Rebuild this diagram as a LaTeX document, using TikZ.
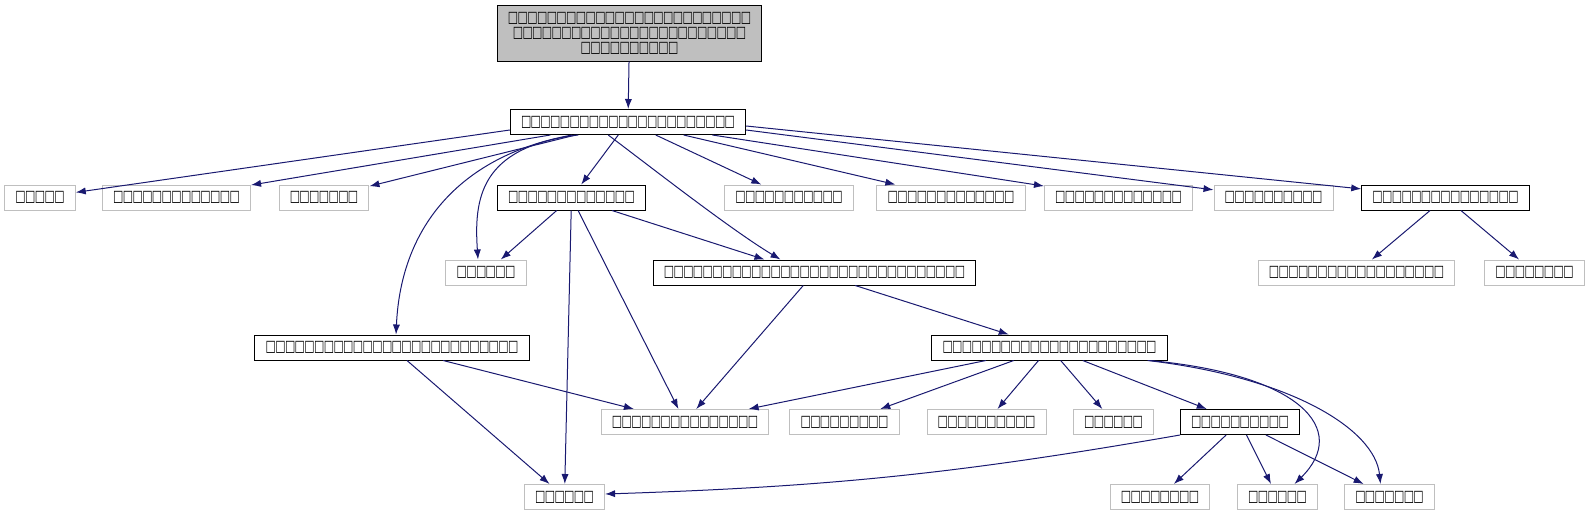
\documentclass[tikz,border=0pt]{standalone}
\usepackage{fontspec}
\newfontfamily\tofufont{DejaVu Sans}
\usetikzlibrary{arrows.meta}
\definecolor{edgeblue}{HTML}{191970}
\definecolor{greyfill}{HTML}{BFBFBF}
\definecolor{greyline}{HTML}{BFBFBF}
% one missing-glyph box per character of the label
\newcommand{\tofu}[1]{\foreach \k in {1,...,#1}{\makebox[4.85pt]{\scalebox{0.69}[1]{□}}}}
\begin{document}
\begin{tikzpicture}[x=0.5pt, y=-0.5pt, >={Latex[length=5pt,width=3.6pt]},
    every node/.style={font=\tofufont\fontsize{7.9}{7.5}\selectfont, inner xsep=5.5pt, inner ysep=0pt, minimum height=12.5pt, line width=0.5pt},
    doc/.style={draw=black}, undoc/.style={draw=greyline},
    edge/.style={->, draw=edgeblue, line width=0.5pt}]
  % include graph, positions in pixels of the 1591 x 515 image
  \useasboundingbox (0,0) rectangle (1591,515);
  \node[doc, fill=greyfill, align=center, minimum height=28pt] (top) at (629.5,33) {\tofu{25}\\\tofu{24}\\\tofu{10}};
  \node[doc] (hdr) at (628,122) {\tofu{22}};
  \node[undoc] (a) at (40,197.5) {\tofu{5}};
  \node[undoc] (b) at (176.5,197.5) {\tofu{13}};
  \node[undoc] (c) at (324,197.5) {\tofu{7}};
  \node[doc] (d) at (571.5,197.5) {\tofu{13}};
  \node[undoc] (e) at (789,197.5) {\tofu{11}};
  \node[undoc] (f) at (951,197.5) {\tofu{13}};
  \node[undoc] (g) at (1118.5,197.5) {\tofu{13}};
  \node[undoc] (h) at (1273.5,197.5) {\tofu{10}};
  \node[doc] (i) at (1445.5,197.5) {\tofu{15}};
  \node[undoc] (j) at (486,272.5) {\tofu{6}};
  \node[doc] (k) at (814.5,272.5) {\tofu{31}};
  \node[undoc] (l) at (1356.5,272.5) {\tofu{18}};
  \node[undoc] (m) at (1534.5,272.5) {\tofu{8}};
  \node[doc] (n) at (392,347.5) {\tofu{26}};
  \node[doc] (o) at (1049.5,347.5) {\tofu{22}};
  \node[undoc] (p) at (685,422) {\tofu{15}};
  \node[undoc] (q) at (844.5,422) {\tofu{9}};
  \node[undoc] (r) at (986.5,422) {\tofu{10}};
  \node[undoc] (s) at (1113.5,422) {\tofu{6}};
  \node[doc] (t) at (1240,422) {\tofu{10}};
  \node[undoc] (u) at (564.5,497) {\tofu{6}};
  \node[undoc] (v) at (1160,497) {\tofu{8}};
  \node[undoc] (w) at (1277.5,497) {\tofu{6}};
  \node[undoc] (x) at (1389.5,497) {\tofu{7}};
  \draw[edge] (top) -- (hdr);
  \draw[edge] ([yshift=-4pt]hdr.west) -- (a);
  \draw[edge] (hdr) -- (b);
  \draw[edge] (hdr) -- (c);
  \draw[edge] (hdr) -- (d);
  \draw[edge] (hdr) -- (e);
  \draw[edge] (hdr) -- (f);
  \draw[edge] (hdr) -- (g);
  \draw[edge] ([yshift=-4pt]hdr.east) -- (h);
  \draw[edge] ([yshift=-2pt]hdr.east) -- (i);
  \draw[edge] ([xshift=34.2pt]hdr.south west) .. controls +(-49.5pt,-6pt) and +(-2pt,30pt) .. ([xshift=-4pt]j.north);
  \draw[edge] ([xshift=31.2pt]hdr.south west) .. controls +(-55pt,-10pt) and +(2.5pt,55pt) .. ([xshift=2pt]n.north);
  \draw[edge] ([xshift=49.2pt]hdr.south west) .. controls +(20pt,-15pt) and +(-25pt,15pt) .. ([xshift=-17pt]k.north);
  \draw[edge] (d) -- (j);
  \draw[edge] (d) -- ([xshift=-25pt]k.north);
  \draw[edge] (d) -- (p);
  \draw[edge] (d) -- (u);
  \draw[edge] (k) -- (p);
  \draw[edge] (k) -- (o);
  \draw[edge] (n) -- (p);
  \draw[edge] (n) -- (u);
  \draw[edge] (o) -- (p);
  \draw[edge] (o) -- (q);
  \draw[edge] (o) -- (r);
  \draw[edge] (o) -- (s);
  \draw[edge] (o) -- (t);
  \draw[edge] ([xshift=-9pt]o.south east) .. controls +(75.5pt,-7pt) and +(27.7pt,27.3pt) .. ([xshift=8.5pt]w.north);
  \draw[edge] ([xshift=-10pt]o.south east) .. controls +(72pt,-8.5pt) and +(-2.8pt,27.3pt) .. ([xshift=-4.5pt]x.north);
  \draw[edge] (t.south west) to[bend left=4] ([yshift=1.5pt]u.east);
  \draw[edge] (t) -- (v);
  \draw[edge] (t) -- (w);
  \draw[edge] (t) -- (x);
  \draw[edge] (i) -- (l);
  \draw[edge] (i) -- (m);
\end{tikzpicture}
\end{document}
